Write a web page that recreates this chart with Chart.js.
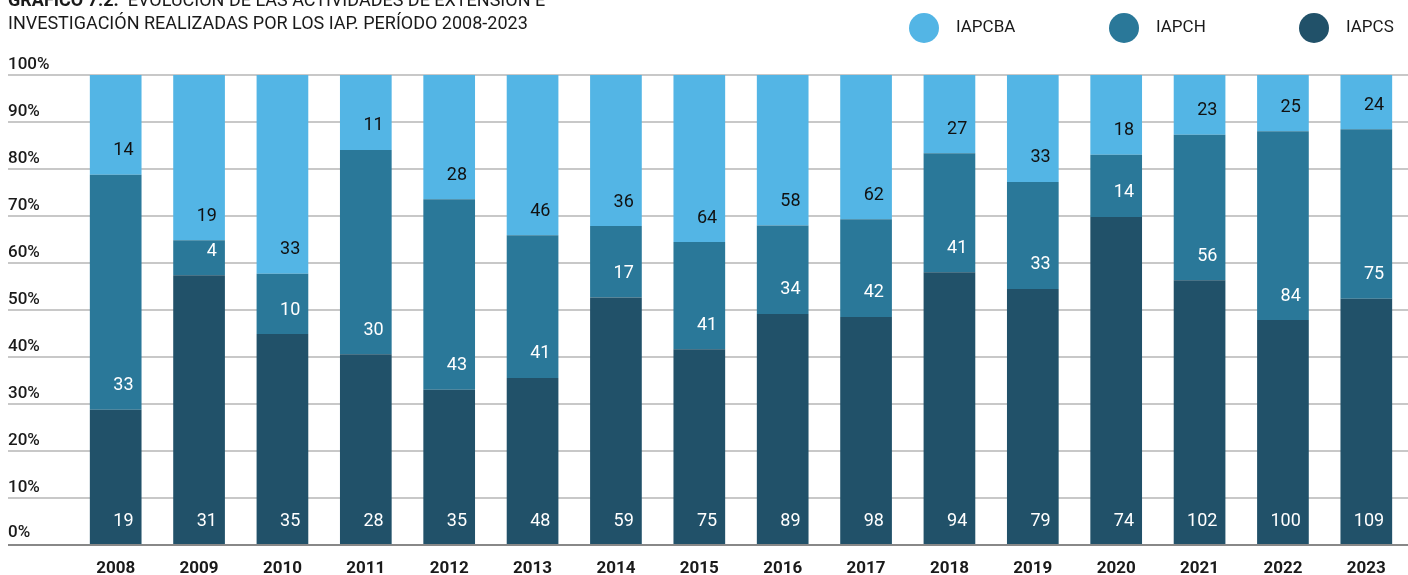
<!DOCTYPE html>
<html>
<head>
<meta charset="utf-8">
<script src="https://cdn.jsdelivr.net/npm/chart.js@4"></script>
<style>
  html, body { margin: 0; padding: 0; background: #fff; }
  #wrap { width: 1408px; height: 575px; position: relative; }
</style>
</head>
<body>
<div id="wrap"><canvas id="graph" width="1408" height="575"></canvas></div>
<script>
const FONT = "'Roboto', sans-serif";

const years = ["2008","2009","2010","2011","2012","2013","2014","2015","2016","2017","2018","2019","2020","2021","2022","2023"];
const iapcs  = [19, 31, 35, 28, 35, 48, 59, 75, 89, 98, 94, 79, 74, 102, 100, 109];
const iapch  = [33, 4, 10, 30, 43, 41, 17, 41, 34, 42, 41, 33, 14, 56, 84, 75];
const iapcba = [14, 19, 33, 11, 28, 46, 36, 64, 58, 62, 27, 33, 18, 23, 25, 24];
const yTicks = [0, 10, 20, 30, 40, 50, 60, 70, 80, 90, 100];

const colors = { iapcs: "#215169", iapch: "#2a7899", iapcba: "#53b5e5" };

// convert raw counts to shares of the yearly total
function pct(arr) {
    return arr.map((v, i) => v / (iapcs[i] + iapch[i] + iapcba[i]) * 100);
}

const series = [
    { label: "IAPCS",  raw: iapcs,  color: colors.iapcs,  text: "#ffffff" },
    { label: "IAPCH",  raw: iapch,  color: colors.iapch,  text: "#ffffff" },
    { label: "IAPCBA", raw: iapcba, color: colors.iapcba, text: "#111111" }
];

const decor = {
    id: 'decor',
    beforeDatasetsDraw(chart) {
        const ctx = chart.ctx, y = chart.scales.y, area = chart.chartArea;
        ctx.save();
        ctx.font = "500 17px " + FONT;
        ctx.fillStyle = "#1a1a1a";
        ctx.textAlign = "left";
        ctx.textBaseline = "alphabetic";
        yTicks.forEach(t => {
            const py = Math.round(y.getPixelForValue(t));
            if (t > 0) {
                ctx.strokeStyle = "#c8c8c8";
                ctx.lineWidth = 2;
                ctx.beginPath(); ctx.moveTo(8, py); ctx.lineTo(area.right, py); ctx.stroke();
            }
            ctx.fillText(t + "%", 8, py - (t > 0 ? 6 : 8));
        });
        ctx.restore();
    },
    afterDatasetsDraw(chart) {
        const ctx = chart.ctx, x = chart.scales.x, y = chart.scales.y, area = chart.chartArea;
        ctx.save();
        // baseline
        const by = Math.round(y.getPixelForValue(0));
        ctx.strokeStyle = "#888888";
        ctx.lineWidth = 2;
        ctx.beginPath(); ctx.moveTo(8, by); ctx.lineTo(area.right, by); ctx.stroke();

        // year labels
        ctx.font = "bold 17px " + FONT;
        ctx.fillStyle = "#1a1a1a";
        ctx.textAlign = "center";
        ctx.textBaseline = "middle";
        years.forEach((yr, i) => ctx.fillText(yr, x.getPixelForValue(i), by + 24));

        // value labels near the bottom-right of each segment
        ctx.font = "18px " + FONT;
        ctx.textAlign = "right";
        chart.data.datasets.forEach((ds, di) => {
            const meta = chart.getDatasetMeta(di);
            meta.data.forEach((bar, i) => {
                const r = bar.getProps(['x', 'base', 'width'], true);
                ctx.fillStyle = series[di].text;
                ctx.fillText(String(series[di].raw[i]), r.x + r.width / 2 - 8, r.base - 24);
            });
        });

        // title
        ctx.textAlign = "left";
        ctx.textBaseline = "alphabetic";
        ctx.fillStyle = "#1a1a1a";
        ctx.font = "bold 18px " + FONT;
        ctx.fillText("GRÁFICO 7.2.", 8, 6);
        const w = ctx.measureText("GRÁFICO 7.2.  ").width;
        ctx.font = "18px " + FONT;
        ctx.fillText("EVOLUCIÓN DE LAS ACTIVIDADES DE EXTENSIÓN E", 8 + w, 6);
        ctx.fillText("INVESTIGACIÓN REALIZADAS POR LOS IAP. PERÍODO 2008-2023", 8, 29);

        // legend
        const legendX = [924, 1124, 1314];
        ctx.font = "17px " + FONT;
        [2, 1, 0].forEach((di, k) => {
            ctx.fillStyle = series[di].color;
            ctx.beginPath(); ctx.arc(legendX[k], 28, 15, 0, Math.PI * 2); ctx.fill();
            ctx.fillStyle = "#1a1a1a";
            ctx.textBaseline = "middle";
            ctx.fillText(series[di].label, legendX[k] + 32, 28);
        });
        ctx.restore();
    }
};

const graph = new Chart(document.getElementById('graph'), {
    type: 'bar',
    data: {
        labels: years,
        datasets: series.map(s => ({
            label: s.label,
            data: pct(s.raw),
            backgroundColor: s.color,
            borderWidth: 0,
            barPercentage: 0.62,
            categoryPercentage: 1
        }))
    },
    options: {
        responsive: false,
        animation: false,
        devicePixelRatio: 1,
        layout: { padding: { left: 74, right: 0, top: 75, bottom: 30 } },
        plugins: { legend: { display: false }, tooltip: { enabled: false } },
        scales: {
            x: { stacked: true, display: false },
            y: { stacked: true, display: false, min: 0, max: 100 }
        }
    },
    plugins: [decor]
});
</script>
</body>
</html>
